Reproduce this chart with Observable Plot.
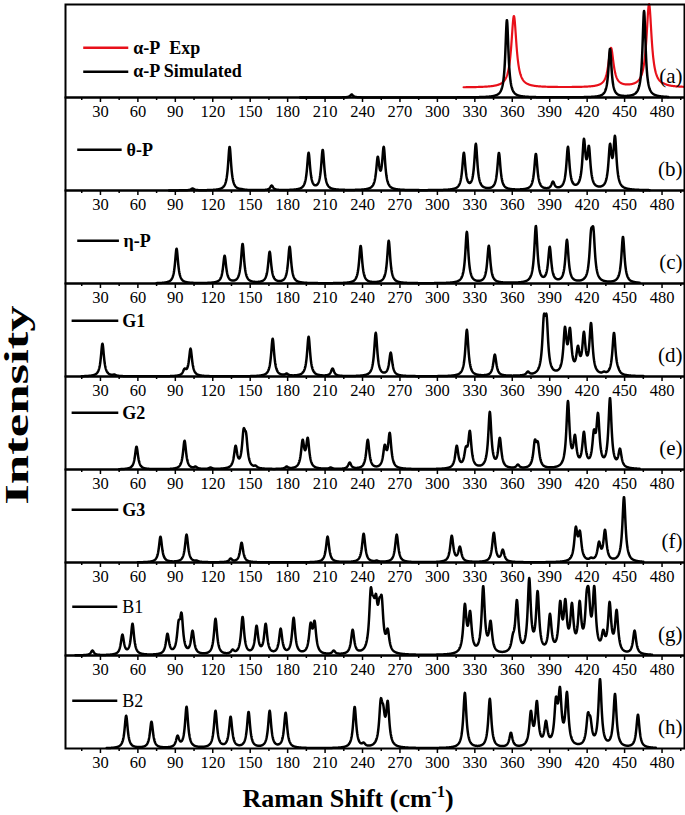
<!DOCTYPE html>
<html><head><meta charset="utf-8">
<script src="https://cdn.jsdelivr.net/npm/d3@7"></script>
<script src="https://cdn.jsdelivr.net/npm/@observablehq/plot@0.6"></script>
<style>
body{margin:0;background:#fff}
#wrap{position:relative;width:685px;height:815px;overflow:hidden;font-family:"Liberation Serif",serif;background:#fff}
#xlab{position:absolute;left:0;top:784px;width:685px;padding-left:11px;box-sizing:border-box;text-align:center;font-weight:bold;font-size:26px;line-height:30px;white-space:nowrap}
#xlab sup{font-size:16px;line-height:0;vertical-align:0.6em}
#ylab{position:absolute;left:17px;top:405px;transform:translate(-50%,-50%) rotate(-90deg) scaleX(1.6);font-weight:bold;font-size:33px;line-height:34px;white-space:nowrap}
</style></head>
<body><div id="wrap"><div id="chart"></div><div id="xlab">Raman Shift (cm<sup>-1</sup>)</div><div id="ylab">Intensity</div></div>
<script>
const panels = ["a","b","c","d","e","f","g","h"];
const majorTicks = [30,60,90,120,150,180,210,240,270,300,330,360,390,420,450,480];
const minorTicks = [15,45,75,105,135,165,195,225,255,285,315,345,375,405,435,465,495];

// (a) alpha-P simulated and experimental
const alphaSimPos = [231.3, 355.7, 438.3, 465.6];
const alphaSimH   = [3, 78, 49, 87];
const alphaExpPos = [361.3, 439.1, 469.6, 481.6];
const alphaExpH   = [82, 50, 94, 14];
const alphaExpBase = 10;

// (b) theta-P
const thetaPos = [103.8,133.5,143.1,167.2,196.8,208.1,252.2,257,321.2,330.8,349.3,378.9,392.6,404.6,411,417.4,421.4,429.5,438.3,442.3];
const thetaH   = [2,44,1.5,5,38,41,34,44,38,47,38,37,9,44,4,52,45,4,47,55];

// (c) eta-P
const etaPos = [91,129.5,143.9,165.6,181.6,238.5,261,323.6,341.2,378.9,390,403.8,423.1,425,448.7];
const etaH   = [35,28,40,32,37,38,43,52,38,58,37,44,54,56,47];

// (d) G1
const g1Pos = [31.6,41.2,97.4,102.2,168,179.2,196.8,216,250.6,262.6,323.6,346,372.5,385.3,387.5,402.2,406.2,412.6,417.4,423.1,433.5,441.5,444.7];
const g1H   = [33,2,8,28,38,3,40,8,44,24,47,22,5,62,62,50,49,31,45,54,5,44,10];

// (e) G2
const g2Pos = [58.9,97.4,106.2,118.2,138.3,144.7,146.7,154.3,179.2,192,196.1,214.5,229.7,244.2,257.8,261.8,315.5,322.8,326,342,350,364.5,378.1,380.5,404.6,410.2,417.4,425.4,428.7,438.3,446.3];
const g2H   = [23,29,3,2,24,41,37,4,3,30,32,2,7,30,25,37,24,23,39,58,32,5,30,28,69,35,38,40,57,72,21];

// (f) G3
const g3Pos = [78.1,99,107,134.3,143.1,212,240.9,251.4,267.4,311.5,318,345.2,352.4,410.9,414.2,423.1,429.5,434.3,449.5];
const g3H   = [26,28,2,4,20,26,29,2,28,27,16,30,13,36,32,5,21,33,66];

// (g) B1
const b1Pos = [23.6,47.6,55.7,83.7,92.6,95,103.8,122.2,135.9,143.9,155.1,162.4,174.4,184.8,198.4,201.6,216.9,232.1,246.6,248.7,250.8,253.5,255.4,260.2,322,326.2,336.7,342.6,360.5,363.7,373.6,380.3,390.2,398.4,402.5,407.8,414,419.6,421.2,425.7,432.9,438,443.6,458];
const b1H   = [5,21,32,22,35,43,25,37,6,39,30,32,27,38,33,35,5,26,68,60,62,58,60,27,52,45,70,35,22,56,78,65,42,55,57,53,55,65,68,70,26,54,46,25];

// (h) B2
const b2Pos = [50.6,70.9,91.8,99,122.2,134.3,148.7,165.6,178.4,233.7,240.9,254.6,256.6,260.2,322,342,358.9,374.9,379.7,387,395,398.2,403.8,420.6,422.6,430.3,442.3,460.7];
const b2H   = [33,27,13,42,38,32,37,38,36,42,6,50,44,48,56,50,16,38,48,28,52,62,57,36,32,70,55,34];

// legends
const legendPanel = ["a","a","b","c","d","e","f","g","h"];
const legendText  = ["α-P\u00a0 Exp","α-P Simulated","θ-P","η-P","G1","G2","G3","B1","B2"];
const legendColor = ["#e8101a","black","black","black","black","black","black","black","black"];
const legendBold  = [true,true,true,true,true,true,true,false,false];
const legendY     = [50,26,41,43,56,57,53,49,48];
const legendX1    = [16.6,16.6,11.8,11.8,7.3,7.3,7.3,7.8,7.8];
const legendX2    = [52.7,52.7,47.4,45.2,44.7,44.7,44.7,43.9,43.9];
const legendTX    = [56.2,56.2,50.9,48.5,47.4,47.4,47.4,47.4,47.4];

const G = 1.5, GEXP = 2.5;
const lor = (d, g) => g * g / (d * d + g * g);
function amplitudes(pos, h, g) {
  const n = pos.length, a = h.slice();
  for (let it = 0; it < 300; it++) {
    for (let i = 0; i < n; i++) {
      let s = 0;
      for (let j = 0; j < n; j++) if (j !== i) s += a[j] * lor(pos[i] - pos[j], g);
      a[i] = Math.max(0, h[i] - s);
    }
  }
  return a;
}
const points = [];
function spectrum(panel, color, pos, h, g, x0, x1, base = 0) {
  const a = amplitudes(pos, h.map(v => v - base), g);
  for (let k = 0; x0 + k * 0.2 <= x1 + 1e-9; k++) {
    const x = x0 + k * 0.2;
    let y = base;
    for (let i = 0; i < pos.length; i++) y += a[i] * lor(x - pos[i], g);
    points.push({panel, series: panel + color, color, x, y});
  }
}
spectrum("a", "#e8101a", alphaExpPos, alphaExpH, GEXP, 321, 498, alphaExpBase);
spectrum("a", "black", alphaSimPos, alphaSimH, G, 190, 485);
spectrum("b", "black", thetaPos, thetaH, G, 85, 470);
spectrum("c", "black", etaPos, etaH, G, 75, 462);
spectrum("d", "black", g1Pos, g1H, G, 15, 465);
spectrum("e", "black", g2Pos, g2H, G, 45, 462);
spectrum("f", "black", g3Pos, g3H, G, 60, 465);
spectrum("g", "black", b1Pos, b1H, G, 10, 472);
spectrum("h", "black", b2Pos, b2H, G, 35, 475);

const legend = legendText.map((t, i) => ({panel: legendPanel[i], text: t, color: legendColor[i], bold: legendBold[i], y: legendY[i], x1: legendX1[i], x2: legendX2[i], tx: legendTX[i]}));

const chart = Plot.plot({
  width: 685, height: 776,
  marginLeft: 65, marginRight: 1, marginTop: 1, marginBottom: 26,
  style: {fontFamily: '"Liberation Serif", serif', fontSize: "16px", color: "black", background: "white", overflow: "visible"},
  x: {domain: [2, 498]},
  y: {domain: [0, 93.6], axis: null},
  fy: {domain: panels, axis: null, padding: 0},
  color: {type: "identity"},
  marks: [
    Plot.line(points.filter(d => d.color !== "black"), {x: "x", y: "y", fy: "panel", z: "series", stroke: "color", strokeWidth: 2.2}),
    Plot.line(points.filter(d => d.color === "black"), {x: "x", y: "y", fy: "panel", z: "series", stroke: "color", strokeWidth: 2.5}),
    Plot.frame({stroke: "black", strokeWidth: 2}),
    Plot.axisX({ticks: minorTicks, tickSize: 3, tickFormat: () => "", facetAnchor: null, label: null, strokeWidth: 1.5}),
    Plot.axisX({ticks: majorTicks, tickSize: 5, tickPadding: 3, facetAnchor: null, label: null, strokeWidth: 1.5, fontSize: 16.5}),
    Plot.ruleY(legend, {fy: "panel", y: "y", x1: "x1", x2: "x2", stroke: "color", strokeWidth: 2.5}),
    Plot.text(legend.filter(d => d.bold), {fy: "panel", x: "tx", y: "y", text: "text", textAnchor: "start", fontWeight: "bold", fontSize: 18}),
    Plot.text(legend.filter(d => !d.bold), {fy: "panel", x: "tx", y: "y", text: "text", textAnchor: "start", fontSize: 18}),
    Plot.text(panels, {fy: d => d, text: d => "(" + d + ")", frameAnchor: "bottom-right", dx: -2, dy: -15, fontSize: 21})
  ]
});
document.getElementById("chart").appendChild(chart);
</script>
</body></html>
